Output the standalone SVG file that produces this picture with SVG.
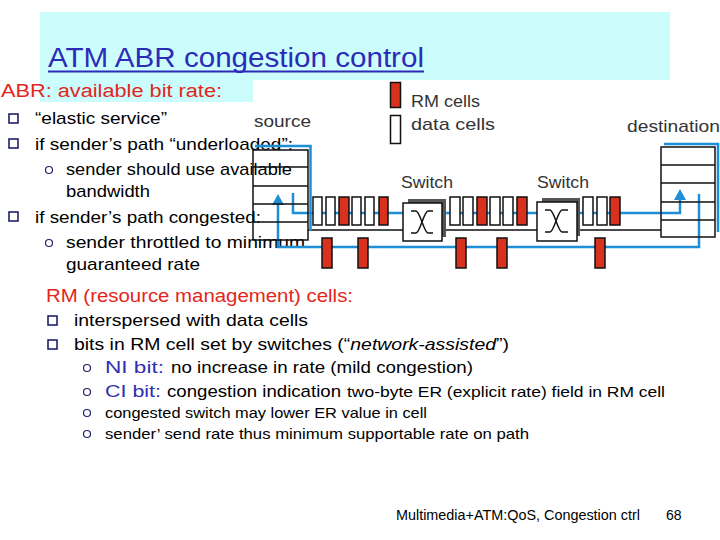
<svg xmlns="http://www.w3.org/2000/svg" width="720" height="540" viewBox="0 0 720 540">
<style>
.t{font-family:"Liberation Sans","DejaVu Sans",sans-serif;fill:#000}
.b{font-size:17px}
.s{font-size:15px}
.red{fill:#e3261b}
.blu{fill:#3030b0}
.lab{font-family:"Liberation Sans","DejaVu Sans",sans-serif;font-size:17px;fill:#333}
.sq{fill:none;stroke:#20206a;stroke-width:1.6}
.ci{fill:none;stroke:#20206a;stroke-width:1.2}
.bl{fill:none;stroke:#1e8fd6;stroke-width:2.5}
.bk{fill:none;stroke:#111;stroke-width:1.5}
.dc{fill:#fff;stroke:#111;stroke-width:1.5}
.rc{fill:#d8321e;stroke:#111;stroke-width:1.5}
.box{fill:none;stroke:#111;stroke-width:1.5}
</style>
<defs>
<path id="arr" d="M0,0 L-6,11 L6,11 Z" fill="#1e8fd6"/>
</defs>
<rect width="720" height="540" fill="#fff"/>
<!-- title background -->
<rect x="40" y="12" width="630" height="68" fill="#ccfdfd"/>
<rect x="40" y="80" width="213" height="22" fill="#ccfdfd"/>
<g id="title">
<text class="t" x="48" y="67" font-size="27" fill="#2b2bb8" style="fill:#2b2bb8" textLength="376" lengthAdjust="spacingAndGlyphs">ATM ABR congestion control</text>
<line x1="48" y1="71.5" x2="424" y2="71.5" stroke="#2b2bb8" stroke-width="2"/>
</g>
<g id="abr-text">
<text class="t red" x="1" y="97" font-size="18" textLength="221" lengthAdjust="spacingAndGlyphs">ABR: available bit rate:</text>
<rect class="sq" x="9" y="114" width="9" height="9"/>
<text class="t b" x="35" y="124" textLength="132" lengthAdjust="spacingAndGlyphs">“elastic service”</text>
<rect class="sq" x="9" y="139" width="9" height="9"/>
<text class="t b" x="35" y="150" textLength="258" lengthAdjust="spacingAndGlyphs">if sender’s path “underloaded”:</text>
<circle class="ci" cx="49" cy="170" r="3.5"/>
<text class="t b" x="66" y="175" textLength="226" lengthAdjust="spacingAndGlyphs">sender should use available</text>
<text class="t b" x="66" y="197" textLength="84" lengthAdjust="spacingAndGlyphs">bandwidth</text>
<rect class="sq" x="9" y="212" width="9" height="9"/>
<text class="t b" x="35" y="223" textLength="226" lengthAdjust="spacingAndGlyphs">if sender’s path congested:</text>
<circle class="ci" cx="49" cy="243" r="3.5"/>
<text class="t b" x="66" y="248" textLength="239" lengthAdjust="spacingAndGlyphs">sender throttled to minimum</text>
<text class="t b" x="66" y="270" textLength="134" lengthAdjust="spacingAndGlyphs">guaranteed rate</text>
</g>
<g id="rm-text">
<text class="t red" x="46" y="302" font-size="18" textLength="307" lengthAdjust="spacingAndGlyphs">RM (resource management) cells:</text>
<rect class="sq" x="48" y="316" width="9" height="9"/>
<text class="t b" x="74" y="326" textLength="234" lengthAdjust="spacingAndGlyphs">interspersed with data cells</text>
<rect class="sq" x="48" y="340" width="9" height="9"/>
<text class="t b" x="74" y="350" textLength="435" lengthAdjust="spacingAndGlyphs">bits in RM cell set by switches (“<tspan font-style="italic">network-assisted</tspan>”)</text>
<circle class="ci" cx="87" cy="368" r="3.5"/>
<text class="t b" x="105" y="373"><tspan class="blu" textLength="59" lengthAdjust="spacingAndGlyphs">NI bit:</tspan><tspan x="171" textLength="302" lengthAdjust="spacingAndGlyphs">no increase in rate (mild congestion)</tspan></text>
<circle class="ci" cx="87" cy="392" r="3.5"/>
<text class="t b" x="105" y="397"><tspan class="blu" textLength="56" lengthAdjust="spacingAndGlyphs">CI bit:</tspan><tspan x="167" textLength="174" lengthAdjust="spacingAndGlyphs">congestion indication</tspan></text>
<text class="t s" x="347" y="397" textLength="318" lengthAdjust="spacingAndGlyphs">two-byte ER (explicit rate) field in RM cell</text>
<circle class="ci" cx="87" cy="413" r="3.5"/>
<text class="t s" x="105" y="418" textLength="322" lengthAdjust="spacingAndGlyphs">congested switch may lower ER value in cell</text>
<circle class="ci" cx="87" cy="434" r="3.5"/>
<text class="t s" x="105" y="439" textLength="424" lengthAdjust="spacingAndGlyphs">sender’ send rate thus minimum supportable rate on path</text>
</g>
<g id="footer">
<text class="t" x="396" y="520" font-size="14" textLength="244" lengthAdjust="spacingAndGlyphs">Multimedia+ATM:QoS, Congestion ctrl</text>
<text class="t" x="666" y="520" font-size="14">68</text>
</g>
<g id="legend">
<rect class="rc" x="390.5" y="82.5" width="10" height="25"/>
<text class="lab" x="411" y="107" textLength="69" lengthAdjust="spacingAndGlyphs">RM cells</text>
<rect class="dc" x="390.5" y="115.5" width="10" height="28"/>
<text class="lab" x="411" y="130" textLength="84" lengthAdjust="spacingAndGlyphs">data cells</text>
</g>
<g id="connectors">
<!-- forward blue path -->
<path class="bl" d="M293,193 V213 H403 M442,213 H537 M577,213 H680 V199"/>
<use href="#arr" x="680" y="189"/>
<!-- return blue path -->
<path class="bl" d="M699,194 V247 H278 V205"/>
<use href="#arr" x="278" y="194"/>
<!-- black lower line -->
<path class="bk" d="M308,230 H403 M442,230 H537 M577,230 H661"/>
</g>
<g id="source">
<path class="bl" d="M255,146 H310.5 V231"/>
<rect class="box" x="253" y="150" width="55" height="90"/>
<path class="box" d="M253,167 H308 M253,186 H308 M253,204 H308 M253,222 H308"/>
<text class="lab" x="254" y="127" textLength="57" lengthAdjust="spacingAndGlyphs">source</text>
</g>
<g id="destination">
<path class="bl" d="M664,144 H718 V232"/>
<rect class="box" x="661" y="147" width="54" height="90"/>
<path class="box" d="M661,165 H715 M661,183 H715 M661,202 H715 M661,220 H715"/>
<text class="lab" x="627" y="132" textLength="93" lengthAdjust="spacingAndGlyphs">destination</text>
</g>
<g id="switch1">
<rect x="408" y="199" width="38" height="38" fill="#555"/>
<rect x="403" y="203" width="39" height="38" fill="#fff" stroke="#111" stroke-width="1.5"/>
<path d="M411,211 H416 C420,211 424,233 428,233 H433 M411,233 H416 C420,233 424,211 428,211 H433" fill="none" stroke="#111" stroke-width="1.5"/>
<text class="lab" x="401" y="188" textLength="52" lengthAdjust="spacingAndGlyphs">Switch</text>
</g>
<g id="switch2">
<rect x="542" y="198" width="38" height="38" fill="#555"/>
<rect x="537" y="202" width="40" height="39" fill="#fff" stroke="#111" stroke-width="1.5"/>
<path d="M545,210 H550 C554,210 558,232 562,232 H568 M545,232 H550 C554,232 558,210 562,210 H568" fill="none" stroke="#111" stroke-width="1.5"/>
<text class="lab" x="537" y="188" textLength="52" lengthAdjust="spacingAndGlyphs">Switch</text>
</g>
<g id="cells-link1">
<rect class="dc" x="313" y="197" width="9" height="28"/>
<rect class="dc" x="326" y="197" width="9" height="28"/>
<rect class="rc" x="339" y="197" width="10" height="28"/>
<rect class="dc" x="352" y="197" width="9" height="28"/>
<rect class="dc" x="365" y="197" width="9" height="28"/>
<rect class="rc" x="379" y="197" width="9" height="28"/>
<rect class="rc" x="322" y="238" width="10" height="30"/>
<rect class="rc" x="358" y="238" width="10" height="30"/>
</g>
<g id="cells-link2">
<rect class="dc" x="450" y="197" width="10" height="28"/>
<rect class="dc" x="463" y="197" width="10" height="28"/>
<rect class="rc" x="477" y="197" width="10" height="28"/>
<rect class="dc" x="490" y="197" width="10" height="28"/>
<rect class="dc" x="503" y="197" width="10" height="28"/>
<rect class="rc" x="517" y="197" width="10" height="28"/>
<rect class="rc" x="456" y="238" width="10" height="30"/>
<rect class="rc" x="497" y="238" width="10" height="30"/>
</g>
<g id="cells-link3">
<rect class="dc" x="583" y="197" width="10" height="28"/>
<rect class="dc" x="597" y="197" width="10" height="28"/>
<rect class="rc" x="610" y="197" width="10" height="28"/>
<rect class="rc" x="595" y="238" width="10" height="30"/>
</g>
</svg>
